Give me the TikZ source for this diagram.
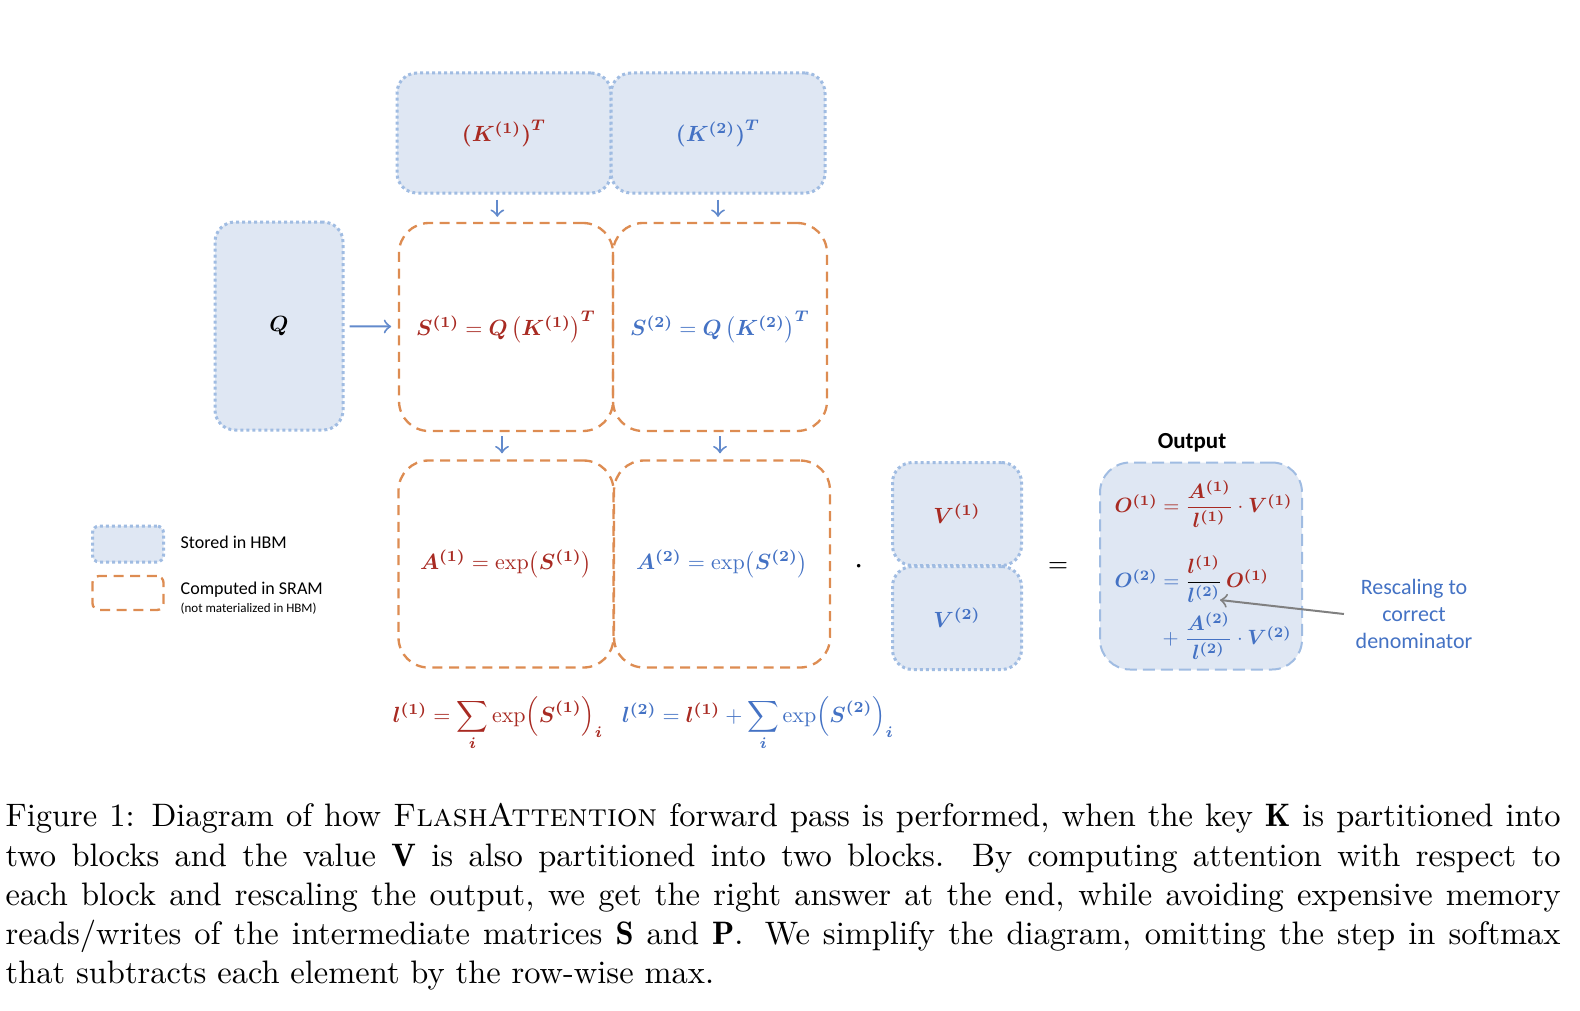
\documentclass[tikz,border=0pt]{standalone}
\usepackage{amsmath}
\usepackage{bm}
\usepackage{graphicx}
\usepackage{fontspec}
\setsansfont{Carlito}

% math labels are set at 10pt and shrunk
\newcommand{\lbl}[1]{\scalebox{0.66}{#1}}
\newcommand{\olbl}[1]{\scalebox{0.62}{#1}}

\definecolor{redtxt}{RGB}{168,42,34}
\definecolor{bluetxt}{RGB}{68,114,196}
\definecolor{hbmfill}{RGB}{223,231,243}
\definecolor{hbmline}{RGB}{160,188,226}
\definecolor{sramline}{RGB}{221,140,82}
\definecolor{arrblue}{RGB}{98,138,204}
\definecolor{greyarr}{RGB}{128,128,128}

\tikzset{
  hbm/.style={draw=hbmline,fill=hbmfill,line width=0.9pt,dash pattern=on 0.9pt off 0.9pt,rounded corners=6pt,inner sep=0pt},
  sram/.style={draw=sramline,line width=0.7pt,dash pattern=on 3pt off 2pt,rounded corners=9pt,inner sep=0pt},
  outbox/.style={draw=hbmline,fill=hbmfill,line width=0.6pt,dash pattern=on 3.6pt off 1.8pt,rounded corners=9pt,inner sep=0pt},
  arr/.style={->,draw=arrblue,line width=0.6pt},
  sanslbl/.style={font=\sffamily\fontsize{5.4}{6.5}\selectfont,inner sep=0pt}
}

\begin{document}
\begin{tikzpicture}[x=0.3pt,y=-0.3pt]
  \useasboundingbox (0,0) rectangle (1580,1010);

  % key blocks
  \node[hbm,text=redtxt,minimum width=64.2pt,minimum height=36pt] (k1) at (504,133) {\lbl{$\bm{(K^{(1)})^T}$}};
  \node[hbm,text=bluetxt,minimum width=64.2pt,minimum height=36pt] (k2) at (718,133) {\lbl{$\bm{(K^{(2)})^T}$}};
  \node[hbm,minimum width=38.4pt,minimum height=62.4pt] (q) at (279,326) {\lbl{$\bm{Q}$}};

  % scores
  \node[sram,text=redtxt,minimum width=64.2pt,minimum height=62.4pt] (s1) at (506,327)
    {\lbl{$\bm{S^{(1)}} = \bm{Q}\left(\bm{K^{(1)}}\right)^{\bm{T}}$}};
  \node[sram,text=bluetxt,minimum width=64.2pt,minimum height=62.4pt] (s2) at (720,327)
    {\lbl{$\bm{S^{(2)}} = \bm{Q}\left(\bm{K^{(2)}}\right)^{\bm{T}}$}};

  % exponentials
  \node[sram,text=redtxt,minimum width=64.5pt,minimum height=62.1pt] (a1) at (506,564)
    {\lbl{$\bm{A^{(1)}} = \exp\bigl(\bm{S^{(1)}}\bigr)$}};
  \node[sram,text=bluetxt,minimum width=64.8pt,minimum height=62.1pt] (a2) at (722,564)
    {\lbl{$\bm{A^{(2)}} = \exp\bigl(\bm{S^{(2)}}\bigr)$}};

  \node (dot) at (859,567) {$\cdot$};

  % values
  \node[hbm,text=redtxt,minimum width=38.7pt,minimum height=30.9pt] (v1) at (957,514) {\lbl{$\bm{V^{(1)}}$}};
  \node[hbm,text=bluetxt,minimum width=38.7pt,minimum height=30.9pt] (v2) at (957,618) {\lbl{$\bm{V^{(2)}}$}};

  \node[font=\fontsize{7.5}{9}\selectfont] (eq) at (1058,567) {$=$};

  % output
  \node[outbox,minimum width=60.6pt,minimum height=62.1pt] (out) at (1201,566) {};
  \node[font=\sffamily\bfseries\fontsize{6.9}{8}\selectfont] (outlbl) at (1192,443) {Output};
  \node[text=redtxt,anchor=west,inner sep=0pt] (o1) at (1114,504)
    {\olbl{$\bm{O^{(1)}} = \dfrac{\bm{A^{(1)}}}{\bm{l^{(1)}}} \cdot \bm{V^{(1)}}$}};
  \node[anchor=west,inner sep=0pt] (o2) at (1114,579)
    {\olbl{$\textcolor{bluetxt}{\bm{O^{(2)}}} \mathrel{\textcolor{bluetxt}{=}} \dfrac{\textcolor{redtxt}{\bm{l^{(1)}}}}{\textcolor{bluetxt}{\bm{l^{(2)}}}}\,\textcolor{redtxt}{\bm{O^{(1)}}}$}};
  \node[text=bluetxt,anchor=west,inner sep=0pt] (o3) at (1162,636)
    {\olbl{$+\;\dfrac{\bm{A^{(2)}}}{\bm{l^{(2)}}} \cdot \bm{V^{(2)}}$}};

  \node[font=\sffamily\fontsize{6.6}{8.1}\selectfont,text=bluetxt,align=center] (resc) at (1414,614)
    {Rescaling to\\correct\\denominator};
  \coordinate (den) at (1220,600);
  \draw[->,greyarr,line width=0.6pt] (resc.west) -- (den);

  % arrows
  \draw[arr,shorten <=1.5pt,shorten >=1.5pt] ([xshift=-2pt]k1.south) -- ([xshift=-2pt]k1.south |- s1.north);
  \draw[arr,shorten <=1.5pt,shorten >=1.5pt] (k2) -- (k2 |- s2.north);
  \draw[arr,shorten <=1.5pt,shorten >=2pt] (q) -- (s1);
  \draw[arr,shorten <=1.2pt,shorten >=1.8pt] ([xshift=-1.2pt]s1.south) -- ([xshift=-1.2pt]s1.south |- a1.north);
  \draw[arr,shorten <=1.2pt,shorten >=1.8pt] (s2) -- (s2 |- a2.north);

  % row sums
  \node[text=redtxt,anchor=base] (l1) at (498,722)
    {\lbl{$\bm{l^{(1)}} = \displaystyle\sum_{\bm{i}} \exp\Bigl(\bm{S^{(1)}}\Bigr)_{\bm{i}}$}};
  \node[text=bluetxt,anchor=base] (l2) at (758,722)
    {\lbl{$\bm{l^{(2)}} = \textcolor{redtxt}{\bm{l^{(1)}}} + \displaystyle\sum_{\bm{i}} \exp\Bigl(\bm{S^{(2)}}\Bigr)_{\bm{i}}$}};

  % legend
  \node[hbm,rounded corners=2pt,minimum width=21.3pt,minimum height=10.8pt] (leghbm) at (128,544) {};
  \node[sram,rounded corners=2pt,minimum width=21.3pt,minimum height=10.2pt] (legsram) at (128,593) {};
  \node[sanslbl,anchor=west] (txthbm) at (180,542) {Stored in HBM};
  \node[sanslbl,anchor=west] (txtsram) at (180,590) {Computed in SRAM};
  \node[sanslbl,font=\sffamily\fontsize{3.9}{5}\selectfont,anchor=west] (txtnote) at (180,609) {(not materialized in HBM)};

  % caption
  \node[anchor=north west,inner sep=0pt,text width=466.5pt,align=justify,font=\fontsize{9.75}{11.75}\selectfont] (cap) at (5,803)
    {Figure 1: Diagram of how \textsc{FlashAttention} forward pass is performed, when the key $\mathbf{K}$ is partitioned into\linebreak
     two blocks and the value $\mathbf{V}$ is also partitioned into two blocks. By computing attention with respect to\linebreak
     each block and rescaling the output, we get the right answer at the end, while avoiding expensive memory\linebreak
     reads/writes of the intermediate matrices $\mathbf{S}$ and $\mathbf{P}$. We simplify the diagram, omitting the step in softmax\linebreak
     that subtracts each element by the row-wise max.};
\end{tikzpicture}
\end{document}
